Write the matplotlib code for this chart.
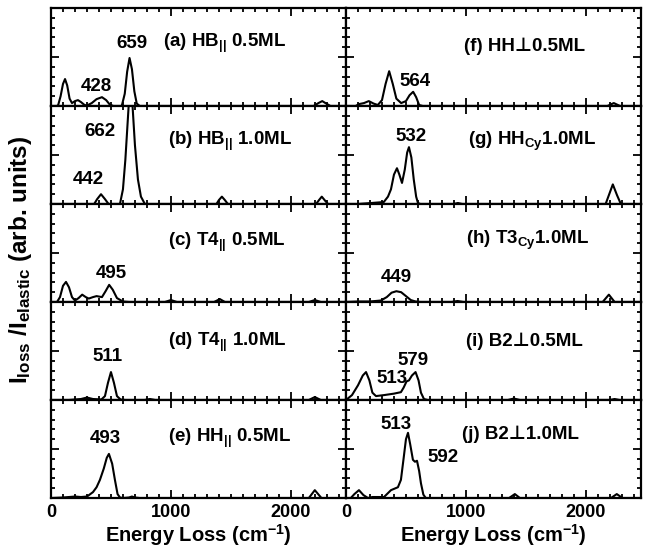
import numpy as np
import matplotlib
matplotlib.use("Agg")
import matplotlib.pyplot as plt
from matplotlib.ticker import MultipleLocator

plt.rcParams['font.family'] = ['Liberation Sans', 'DejaVu Sans']
plt.rcParams['font.weight'] = 'bold'
plt.rcParams['mathtext.fontset'] = 'custom'
plt.rcParams['mathtext.rm'] = 'Liberation Sans:bold'
plt.rcParams['mathtext.bf'] = 'Liberation Sans:bold'
plt.rcParams['mathtext.it'] = 'Liberation Sans:bold'
plt.rcParams['mathtext.default'] = 'rm'

# spectra (energy loss in cm^-1, intensity arb. units)
a_x = [0, 50, 60, 80, 100, 117, 135, 155, 175, 200, 225, 250, 280, 300, 340, 380, 425, 460, 490, 520,
       590, 615, 635, 655, 675, 695, 715, 740, 2190, 2230, 2262, 2295, 2330, 2460]
a_y = [0, 0, 0.02, 0.2, 0.45, 0.55, 0.42, 0.15, 0.06, 0.1, 0.12, 0.08, 0.02, 0.01, 0.06, 0.14, 0.18, 0.12, 0.03, 0,
       0, 0.25, 0.7, 0.98, 0.75, 0.3, 0.05, 0, 0, 0.06, 0.1, 0.05, 0, 0]

b_x = [0, 360, 385, 417, 450, 480, 575, 600, 620, 635, 650, 665, 680, 700, 725, 750, 783,
       1380, 1400, 1425, 1450, 1475, 2210, 2235, 2258, 2285, 2310, 2460]
b_y = [0, 0, 0.1, 0.2, 0.1, 0, 0, 0.3, 0.9, 1.5, 2.1, 2.4, 2.0, 1.2, 0.5, 0.15, 0,
       0, 0.08, 0.15, 0.08, 0, 0, 0.08, 0.15, 0.07, 0, 0]

c_x = [0, 50, 75, 100, 125, 150, 175, 200, 230, 260, 290, 315, 350, 380, 425, 455, 485, 515, 550, 600, 650,
       950, 1000, 1050, 1360, 1408, 1450, 2150, 2200, 2250, 2460]
c_y = [0, 0, 0.1, 0.33, 0.41, 0.3, 0.1, 0.03, 0.08, 0.15, 0.1, 0.07, 0.1, 0.12, 0.1, 0.22, 0.35, 0.25, 0.08, 0.01, 0,
       0, 0.04, 0, 0, 0.06, 0, 0, 0.04, 0, 0]

d_x = [0, 150, 250, 300, 350, 420, 450, 475, 500, 525, 550, 580, 620, 780, 825, 870, 2150, 2200, 2250, 2460]
d_y = [0, 0, 0.02, 0.05, 0.02, 0.01, 0.08, 0.35, 0.57, 0.35, 0.08, 0.01, 0, 0, 0.02, 0, 0, 0.06, 0, 0]

e_x = [0, 100, 200, 250, 300, 350, 380, 408, 440, 465, 483, 510, 533, 555, 575, 600, 650, 675, 700, 740,
       2150, 2200, 2255, 2460]
e_y = [0, 0.01, 0.03, 0.02, 0.03, 0.12, 0.22, 0.37, 0.6, 0.82, 0.9, 0.7, 0.37, 0.08, 0.01, 0, 0.01, 0.03, 0.01, 0,
       0, 0.16, 0, 0]

f_x = [0, 80, 110, 150, 190, 230, 265, 300, 330, 360, 390, 420, 460, 500, 530, 560, 585, 610, 640,
       2180, 2233, 2285, 2460]
f_y = [0, 0, 0.04, 0.06, 0.1, 0.05, 0.02, 0.12, 0.45, 0.71, 0.45, 0.15, 0.06, 0.1, 0.22, 0.29, 0.18, 0.02, 0,
       0, 0.06, 0, 0]

g_x = [0, 100, 210, 315, 350, 375, 400, 425, 445, 467, 490, 510, 525, 545, 565, 585, 600, 620,
       900, 933, 970, 2165, 2195, 2225, 2260, 2292, 2460]
g_y = [0, 0, 0.02, 0.04, 0.15, 0.3, 0.6, 0.73, 0.6, 0.43, 0.7, 1.05, 1.16, 0.95, 0.5, 0.15, 0.02, 0,
       0, 0.02, 0, 0, 0.2, 0.4, 0.18, 0, 0]

h_x = [0, 100, 200, 290, 340, 380, 420, 460, 500, 540, 580, 620, 880, 930, 980, 2140, 2192, 2240, 2460]
h_y = [0, 0.01, 0.01, 0.03, 0.1, 0.19, 0.22, 0.2, 0.12, 0.04, 0.01, 0, 0, 0.02, 0, 0, 0.15, 0, 0]

i_x = [0, 50, 100, 140, 167, 195, 220, 250, 317, 400, 458, 480, 505, 525, 550, 580, 605, 625, 650, 680,
       1350, 1400, 1450, 2200, 2240, 2280, 2460]
i_y = [0, 0.1, 0.3, 0.5, 0.57, 0.4, 0.15, 0.08, 0.1, 0.13, 0.16, 0.25, 0.38, 0.4, 0.5, 0.57, 0.4, 0.15, 0.02, 0,
       0, 0.03, 0, 0, 0.02, 0, 0]

j_x = [0, 40, 70, 108, 145, 183, 220, 317, 375, 433, 458, 480, 500, 517, 535, 558, 575, 592, 610, 625, 645, 665,
       1360, 1408, 1450, 2210, 2258, 2305, 2460]
j_y = [0, 0, 0.08, 0.16, 0.06, 0, 0.02, 0.02, 0.16, 0.22, 0.37, 0.8, 1.2, 1.33, 1.1, 0.78, 0.74, 0.76, 0.55, 0.3, 0.07, 0,
       0, 0.08, 0, 0, 0.08, 0, 0]

panel_titles = [r"(a) HB$_{||}$ 0.5ML", r"(b) HB$_{||}$ 1.0ML", r"(c) T4$_{||}$ 0.5ML",
                r"(d) T4$_{||}$ 1.0ML", r"(e) HH$_{||}$ 0.5ML",
                "(f) HH\u22a50.5ML", r"(g) HH$_{Cy}$1.0ML", r"(h) T3$_{Cy}$1.0ML",
                "(i) B2\u22a50.5ML", "(j) B2\u22a51.0ML"]
peak_labels = [["659", "428"], ["662", "442"], ["495"], ["511"], ["493"],
               ["564"], ["532"], ["449"], ["513", "579"], ["513", "592"]]

# where the text sits in each panel (data coords)
title_pos = [(930, 1.27), (975, 1.27), (975, 1.22), (975, 1.18), (975, 1.22),
             (983, 1.22), (1017, 1.27), (1000, 1.25), (1000, 1.2), (967, 1.29)]
peak_pos = [[(675, 1.27), (380, 0.39)], [(408, 1.47), (308, 0.49)], [(500, 0.59)], [(475, 0.88)],
            [(450, 1.22)], [(575, 0.51)], [(542, 1.37)], [(417, 0.49)],
            [(383, 0.43), (558, 0.8)], [(417, 1.49), (808, 0.82)]]

xs = [a_x, b_x, c_x, d_x, e_x, f_x, g_x, h_x, i_x, j_x]
ys = [a_y, b_y, c_y, d_y, e_y, f_y, g_y, h_y, i_y, j_y]

fig = plt.figure(figsize=(6.46, 5.56), dpi=100)
left, right, top, bottom = 51 / 646, 641 / 646, 1 - 8 / 556, 1 - 498 / 556
col_w = (right - left) / 2
row_h = (top - bottom) / 5

for k in range(10):
    col, row = divmod(k, 5)
    ax = fig.add_axes([left + col * col_w, top - (row + 1) * row_h, col_w, row_h])
    ax.plot(xs[k], ys[k], color='black', lw=1.5)
    ax.set_xlim(0, 2460)
    ax.set_ylim(0, 2)
    ax.xaxis.set_major_locator(MultipleLocator(1000))
    ax.xaxis.set_minor_locator(MultipleLocator(100))
    ax.yaxis.set_major_locator(MultipleLocator(1))
    ax.yaxis.set_minor_locator(MultipleLocator(0.2))
    ax.tick_params(which='both', direction='in', top=True, right=True, width=1.3)
    ax.tick_params(which='major', length=5.5)
    ax.tick_params(which='minor', length=3)
    ax.tick_params(axis='x', labelsize=13, pad=4)
    ax.set_yticklabels([])
    for s in ax.spines.values():
        s.set_linewidth(1.6)
    if row < 4:
        ax.set_xticklabels([])
    else:
        for t in ax.get_xticklabels():
            t.set_fontweight('bold')
        ax.set_xlabel(r"Energy Loss (cm$^{-1}$)", fontsize=14.5, fontweight='bold', labelpad=1)

    tx, ty = title_pos[k]
    ax.text(tx, ty, panel_titles[k], fontsize=13.5, fontweight='bold', ha='left', va='center')
    for lab, (px, py) in zip(peak_labels[k], peak_pos[k]):
        ax.text(px, py, lab, fontsize=13.5, fontweight='bold', ha='center', va='center')

fig.text(0.031, 0.532, r"I$_{loss}$ /I$_{elastic}$ (arb. units)", rotation=90,
         fontsize=17.5, fontweight='bold', ha='center', va='center')

fig.savefig('out.png', dpi=100)
